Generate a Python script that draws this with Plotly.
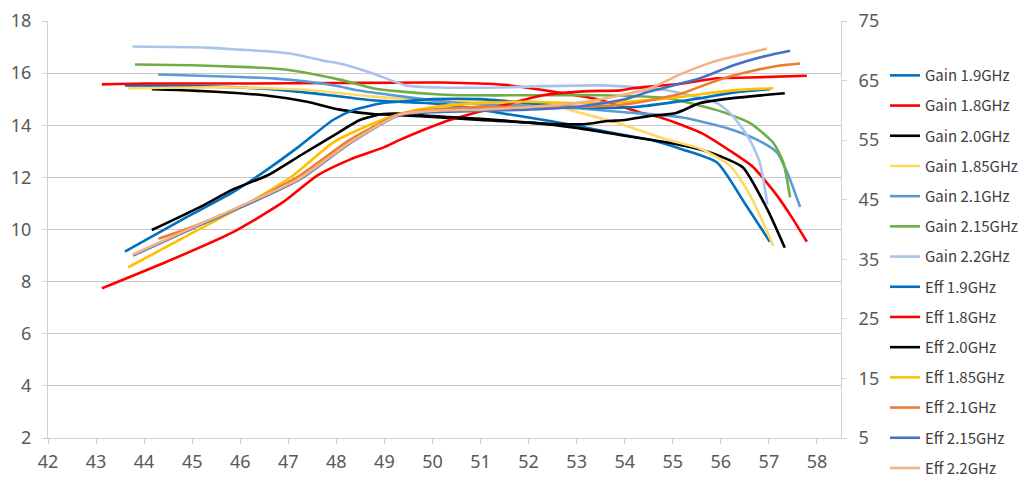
import plotly.graph_objects as go

# ---------------- data ----------------
# Gain curves (left axis, dB) vs output power
gain_19_x = [43.6, 45, 46, 47, 48, 48.76, 49.5, 50.16, 51, 51.4, 52, 53, 53.9, 54.5, 55.2, 55.92, 56.5, 57.02]
gain_19_y = [15.53, 15.5, 15.45, 15.33, 15.12, 14.96, 14.88, 14.82, 14.6, 14.47, 14.3, 13.98, 13.65, 13.45, 13.07, 12.57, 11.0, 9.53]

gain_18_x = [43.12, 44, 46, 48, 50.16, 51.5, 52.3, 53.49, 54.3, 54.75, 55.2, 55.6, 56.25, 56.67, 57.17, 57.5, 57.79]
gain_18_y = [15.57, 15.6, 15.6, 15.62, 15.64, 15.55, 15.35, 14.97, 14.5, 14.3, 14.0, 13.7, 12.95, 12.4, 11.3, 10.4, 9.53]

gain_20_x = [44.16, 45, 45.99, 46.5, 47.39, 48.07, 48.76, 49.3, 50.16, 51, 52.1, 53, 53.9, 54.5, 55, 55.57, 56, 56.46, 56.96, 57.33]
gain_20_y = [15.38, 15.33, 15.23, 15.15, 14.9, 14.6, 14.43, 14.39, 14.3, 14.2, 14.09, 13.9, 13.63, 13.45, 13.3, 13.07, 12.8, 12.38, 10.8, 9.3]

gain_185_x = [43.66, 45, 46, 47.39, 48.76, 49.47, 50.16, 51.4, 52.45, 52.8, 53.13, 53.84, 54.32, 54.88, 55.57, 56.19, 56.6, 57.09]
gain_185_y = [15.42, 15.45, 15.45, 15.35, 15.1, 15.0, 14.95, 14.93, 14.85, 14.62, 14.45, 14.1, 13.8, 13.45, 13.1, 12.45, 11.35, 9.38]

gain_21_x = [44.29, 46.0, 46.68, 47.39, 48.07, 48.43, 49.47, 50.16, 51, 52, 53, 54, 55.2, 56.25, 56.8, 57.17, 57.4, 57.65]
gain_21_y = [15.95, 15.85, 15.8, 15.68, 15.49, 15.34, 15.08, 14.92, 14.8, 14.75, 14.65, 14.5, 14.3, 13.82, 13.4, 12.95, 12.1, 10.86]

gain_215_x = [43.81, 45, 46.0, 46.68, 47.04, 48.07, 48.76, 49.3, 50.16, 50.7, 52, 53.49, 54.88, 55.92, 56.6, 57.09, 57.3, 57.44]
gain_215_y = [16.33, 16.3, 16.24, 16.18, 16.11, 15.75, 15.42, 15.3, 15.18, 15.15, 15.15, 15.15, 15.04, 14.58, 14.09, 13.33, 12.57, 11.24]

gain_22_x = [43.76, 45.3, 46.0, 46.68, 47.04, 47.72, 48.07, 48.76, 49.47, 50.16, 51.4, 52.1, 53.49, 54.3, 54.88, 55.92, 56.25, 56.6, 56.81, 56.97]
gain_22_y = [17.02, 16.98, 16.9, 16.82, 16.75, 16.48, 16.37, 15.99, 15.52, 15.45, 15.45, 15.49, 15.53, 15.45, 15.34, 14.85, 14.35, 13.45, 12.57, 10.95]

# Efficiency curves (right axis, %)
eff_19_x = [43.6, 44.81, 45.85, 46.56, 47.24, 47.93, 48.35, 48.97, 49.3, 50, 51, 52, 53, 53.5, 54.2, 54.88, 55.57, 56.25, 57.02]
eff_19_y = [36.3, 41.75, 46.26, 50.06, 54.04, 58.38, 60.04, 61.22, 61.44, 61.88, 61.88, 61.22, 60.56, 60.39, 60.56, 61.22, 62.05, 62.97, 63.54]

eff_18_x = [43.12, 44.48, 45.85, 46.89, 47.6, 48.28, 48.97, 49.32, 50.36, 51.4, 52.3, 53.13, 53.9, 54.17, 55.2, 55.92, 56.6, 57.79]
eff_18_y = [30.11, 34.62, 39.56, 44.59, 49.06, 51.73, 53.74, 55.05, 58.38, 60.69, 62.53, 63.19, 63.36, 63.71, 64.5, 65.38, 65.51, 65.81]

eff_20_x = [44.16, 45.16, 45.85, 46.56, 47.24, 47.93, 48.49, 48.97, 49.3, 50, 51, 52, 52.5, 53.2, 53.63, 54, 54.5, 55.07, 55.57, 56.25, 57.33]
eff_20_y = [39.91, 43.76, 46.74, 49.06, 52.38, 55.71, 58.38, 59.38, 59.47, 59.03, 58.59, 57.94, 57.72, 57.72, 58.2, 58.38, 59.03, 59.56, 61.22, 62.05, 62.88]

eff_185_x = [43.67, 45.16, 46.2, 47.1, 47.93, 48.64, 49.32, 50, 51, 52, 53, 54, 55, 55.57, 56.25, 57.09]
eff_185_y = [33.66, 40.09, 44.59, 49.06, 54.57, 57.37, 59.38, 60.56, 61.22, 61.44, 61.22, 61.44, 62.09, 62.71, 63.36, 63.71]

eff_21_x = [44.3, 45.16, 46.2, 47.24, 48.28, 49.32, 50, 51, 52, 53, 54, 54.5, 55.2, 55.92, 56.6, 57.23, 57.65]
eff_21_y = [38.43, 40.92, 44.59, 49.06, 55.05, 59.38, 60.13, 60.56, 60.56, 60.56, 61.0, 61.66, 62.88, 65.03, 66.51, 67.52, 67.87]

eff_215_x = [43.77, 45.16, 46.2, 47.24, 48.28, 49.32, 50, 51, 52, 53, 54, 54.53, 55.57, 56.25, 56.96, 57.44]
eff_215_y = [35.63, 40.74, 44.38, 48.4, 54.44, 59.21, 59.69, 59.91, 60.13, 60.56, 61.88, 63.19, 65.38, 67.52, 69.18, 70.01]

eff_22_x = [43.77, 45.16, 46.2, 47.24, 48.28, 49.32, 50, 51, 52, 53, 53.8, 54.53, 55.2, 55.92, 56.25, 56.96]
eff_22_y = [35.8, 40.9, 44.6, 48.6, 54.6, 59.3, 59.91, 60.13, 60.56, 61.22, 62.31, 63.71, 66.2, 68.35, 69.01, 70.36]

x_ticks = list(range(42, 59))
left_ticks = list(range(2, 19, 2))
right_ticks = list(range(5, 76, 10))

gain_series = [
    ("Gain 1.9GHz", gain_19_x, gain_19_y, "#0070C0"),
    ("Gain 1.8GHz", gain_18_x, gain_18_y, "#FF0000"),
    ("Gain 2.0GHz", gain_20_x, gain_20_y, "#000000"),
    ("Gain 1.85GHz", gain_185_x, gain_185_y, "#FFD966"),
    ("Gain 2.1GHz", gain_21_x, gain_21_y, "#5B9BD5"),
    ("Gain 2.15GHz", gain_215_x, gain_215_y, "#70AD47"),
    ("Gain 2.2GHz", gain_22_x, gain_22_y, "#A9C4EB"),
]
eff_series = [
    ("Eff 1.9GHz", eff_19_x, eff_19_y, "#0070C0"),
    ("Eff 1.8GHz", eff_18_x, eff_18_y, "#FF0000"),
    ("Eff 2.0GHz", eff_20_x, eff_20_y, "#000000"),
    ("Eff 1.85GHz", eff_185_x, eff_185_y, "#FFC000"),
    ("Eff 2.1GHz", eff_21_x, eff_21_y, "#ED7D31"),
    ("Eff 2.15GHz", eff_215_x, eff_215_y, "#4472C4"),
    ("Eff 2.2GHz", eff_22_x, eff_22_y, "#F4B183"),
]

fig = go.Figure()
for name, xs, ys, c in gain_series:
    fig.add_trace(go.Scatter(x=xs, y=ys, name=name, mode="lines", yaxis="y",
                             line=dict(color=c, width=2.6, shape="spline", smoothing=0.6),
                             legendgroup=name))
for name, xs, ys, c in eff_series:
    fig.add_trace(go.Scatter(x=xs, y=ys, name=name, mode="lines", yaxis="y2",
                             line=dict(color=c, width=2.6, shape="spline", smoothing=0.6),
                             legendgroup=name))

tick_font = dict(family="Noto Sans, sans-serif", size=18, color="#595959")
axis_col = "#D0D0D0"

# page body has an 8px margin, so the figure is 1026x475 placed at (8, 8)
fig.update_layout(
    width=1026, height=475,
    margin=dict(l=40, r=193, t=13, b=45, autoexpand=False),
    paper_bgcolor="white", plot_bgcolor="white",
    showlegend=True,
    legend=dict(x=1.0555, xanchor="left", y=0.9086, yanchor="top", maxheight=600,
                font=dict(family="Noto Sans CJK SC, Noto Sans, sans-serif", size=15, color="#404040"),
                tracegroupgap=7.7, traceorder="grouped", bgcolor="rgba(0,0,0,0)"),
    xaxis=dict(range=[42, 58.5], tickvals=x_ticks, showgrid=False, zeroline=False,
               showline=True, linecolor=axis_col, linewidth=1, automargin=False,
               ticks="outside", ticklen=5, tickcolor=axis_col, ticklabeloverflow="allow",
               tickfont=tick_font, ticklabelstandoff=2),
    yaxis=dict(range=[2, 18], tickvals=left_ticks, showgrid=True, gridcolor="#C8C8C8", gridwidth=1,
               zeroline=False, showline=True, linecolor=axis_col, linewidth=1, automargin=False,
               ticks="outside", ticklen=5, tickcolor=axis_col, ticklabeloverflow="allow",
               tickfont=tick_font, ticklabelstandoff=7),
    yaxis2=dict(range=[5, 75], tickvals=right_ticks, overlaying="y", side="right", showgrid=False,
                zeroline=False, showline=True, linecolor=axis_col, linewidth=1, automargin=False,
                ticks="outside", ticklen=5, tickcolor=axis_col, ticklabeloverflow="allow",
                tickfont=tick_font, ticklabelstandoff=8),
)

fig.write_html("out.html")
